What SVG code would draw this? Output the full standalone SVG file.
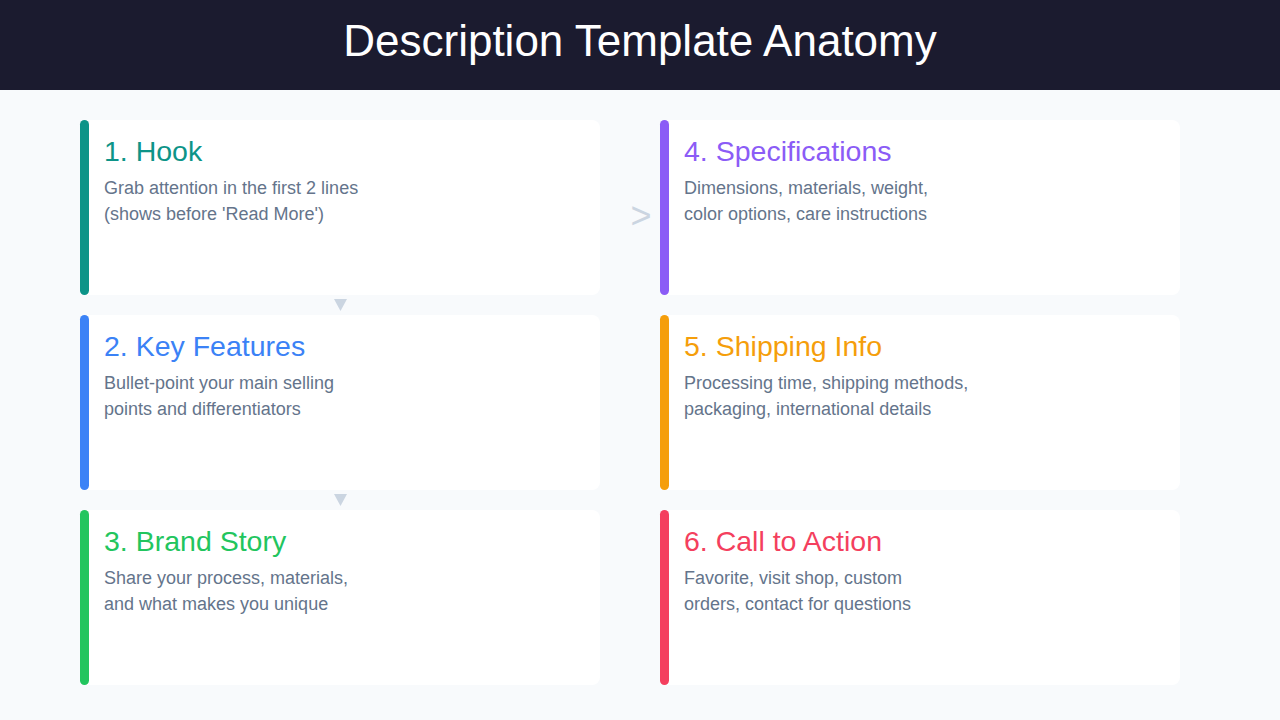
<svg xmlns="http://www.w3.org/2000/svg" width="1280" height="720" viewBox="0 0 1280 720">
<style>
.card{fill:#FFFFFF}
.title{font-family:"Liberation Sans",Arial,sans-serif;font-size:28.5px}
.body{font-family:"Liberation Sans",Arial,sans-serif;font-size:18px;fill:#64748B}
.conn{fill:#CBD5E1}
</style>
<rect x="0" y="0" width="1280" height="720" fill="#F8FAFC"/>
<rect x="0" y="0" width="1280" height="90" fill="#1B1B2F"/>
<text x="640" y="56" text-anchor="middle" font-family="Liberation Sans,Arial,sans-serif" font-size="44" fill="#FFFFFF">Description Template Anatomy</text>

<g id="connectors">
<polygon class="conn" points="334,299 347,299 340.5,311"/>
<polygon class="conn" points="334,494 347,494 340.5,506"/>
<text x="641" y="228" text-anchor="middle" font-family="Liberation Sans,Arial,sans-serif" font-size="36" fill="#CBD5E1">&gt;</text>
</g>

<g id="node1">
<rect class="card" x="80" y="120" width="520" height="175" rx="8"/>
<rect x="80" y="120" width="9" height="175" rx="4.5" fill="#0D9488"/>
<text class="title" x="104" y="161" fill="#0D9488">1. Hook</text>
<text class="body" x="104" y="194">Grab attention in the first 2 lines</text>
<text class="body" x="104" y="220">(shows before 'Read More')</text>
</g>
<g id="node2">
<rect class="card" x="80" y="315" width="520" height="175" rx="8"/>
<rect x="80" y="315" width="9" height="175" rx="4.5" fill="#3B82F6"/>
<text class="title" x="104" y="356" fill="#3B82F6">2. Key Features</text>
<text class="body" x="104" y="389">Bullet-point your main selling</text>
<text class="body" x="104" y="415">points and differentiators</text>
</g>
<g id="node3">
<rect class="card" x="80" y="510" width="520" height="175" rx="8"/>
<rect x="80" y="510" width="9" height="175" rx="4.5" fill="#22C55E"/>
<text class="title" x="104" y="551" fill="#22C55E">3. Brand Story</text>
<text class="body" x="104" y="584">Share your process, materials,</text>
<text class="body" x="104" y="610">and what makes you unique</text>
</g>
<g id="node4">
<rect class="card" x="660" y="120" width="520" height="175" rx="8"/>
<rect x="660" y="120" width="9" height="175" rx="4.5" fill="#8B5CF6"/>
<text class="title" x="684" y="161" fill="#8B5CF6">4. Specifications</text>
<text class="body" x="684" y="194">Dimensions, materials, weight,</text>
<text class="body" x="684" y="220">color options, care instructions</text>
</g>
<g id="node5">
<rect class="card" x="660" y="315" width="520" height="175" rx="8"/>
<rect x="660" y="315" width="9" height="175" rx="4.5" fill="#F59E0B"/>
<text class="title" x="684" y="356" fill="#F59E0B">5. Shipping Info</text>
<text class="body" x="684" y="389">Processing time, shipping methods,</text>
<text class="body" x="684" y="415">packaging, international details</text>
</g>
<g id="node6">
<rect class="card" x="660" y="510" width="520" height="175" rx="8"/>
<rect x="660" y="510" width="9" height="175" rx="4.5" fill="#F43F5E"/>
<text class="title" x="684" y="551" fill="#F43F5E">6. Call to Action</text>
<text class="body" x="684" y="584">Favorite, visit shop, custom</text>
<text class="body" x="684" y="610">orders, contact for questions</text>
</g>
</svg>
